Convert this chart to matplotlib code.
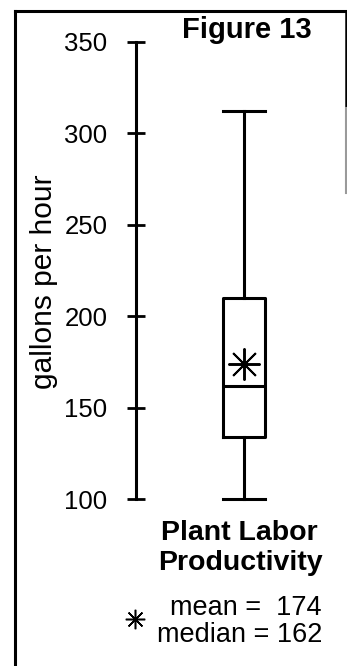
import matplotlib
matplotlib.use("Agg")
import matplotlib.pyplot as plt
from matplotlib.lines import Line2D

plt.rcParams['font.family'] = ['Liberation Sans', 'DejaVu Sans']

# ---- data ----
category = "Plant Labor\nProductivity"
q1 = 134
median = 162
q3 = 210
whisker_low = 100
whisker_high = 312
mean = 174
yticks = [100, 150, 200, 250, 300, 350]
ylabel = "gallons per hour"
title = "Figure 13"

W, H = 347, 666
fig = plt.figure(figsize=(W / 100, H / 100), dpi=100)

def fx(px):
    return px / W

def fy(py):
    return (H - py) / H

# axes: y spine at x=136px; 350 -> 41.7px, 100 -> 499.3px
ppu = (499.3 - 41.7) / 250.0
ylo, yhi = 95, 355
top_px = 41.7 - (yhi - 350) * ppu
bot_px = 499.3 + (100 - ylo) * ppu
left_px, right_px = 136, 330
ax = fig.add_axes([fx(left_px), fy(bot_px), fx(right_px) - fx(left_px), fy(top_px) - fy(bot_px)])
ax.set_xlim(0, 1)
ax.set_ylim(ylo, yhi)
ax.patch.set_alpha(0)

pos = (244 - left_px) / (right_px - left_px)
bw = 42 / (right_px - left_px)

stats = [dict(med=median, q1=q1, q3=q3, whislo=whisker_low, whishi=whisker_high,
              mean=mean, fliers=[], label="")]
lw = 2.2
ax.bxp(stats, positions=[pos], widths=bw, capwidths=bw, showmeans=True,
       showfliers=False, manage_ticks=False,
       boxprops=dict(color='black', linewidth=lw),
       medianprops=dict(color='black', linewidth=lw),
       whiskerprops=dict(color='black', linewidth=lw),
       capprops=dict(color='black', linewidth=lw),
       meanprops=dict(marker=(8, 2, 0), markersize=23, markeredgecolor='black',
                      markerfacecolor='black', markeredgewidth=1.4, linestyle='none'))

for s in ['top', 'right', 'bottom']:
    ax.spines[s].set_visible(False)
ax.spines['left'].set_bounds(yticks[0], yticks[-1])
ax.spines['left'].set_linewidth(2.2)
ax.set_xticks([])
ax.set_yticks(yticks)
ax.set_yticklabels([str(v) for v in yticks])
ax.tick_params(axis='y', direction='inout', length=13, width=2.0, pad=14,
               labelsize=18.5, colors='black')

# y label
fig.text(fx(44), fy(281.5), ylabel, rotation=90, ha='center', va='center', fontsize=21.5)

# title
fig.text(fx(247), fy(38), title, ha='center', va='baseline', fontsize=21, fontweight='bold')

# category label
cat_lines = category.split("\n")
fig.text(fx(239), fy(540), cat_lines[0], ha='center', va='baseline', fontsize=20.5, fontweight='bold')
fig.text(fx(240), fy(570), cat_lines[1], ha='center', va='baseline', fontsize=20.5, fontweight='bold')

# legend-like annotation
fig.text(fx(322), fy(615), f"mean =  {mean}", ha='right', va='baseline', fontsize=19.5)
fig.text(fx(322), fy(642), f"median = {median}", ha='right', va='baseline', fontsize=19.5)
fig.add_artist(Line2D([fx(135)], [fy(619)], marker=(8, 2, 0), markersize=14,
                      markeredgecolor='black', markeredgewidth=1.1, linestyle='none',
                      transform=fig.transFigure))

# border lines
bl = 2.2
fig.add_artist(Line2D([fx(14.5), fx(346)], [fy(10.5), fy(10.5)], color='black', lw=bl,
                      transform=fig.transFigure))
fig.add_artist(Line2D([fx(14.5), fx(14.5)], [fy(10.5), fy(666)], color='black', lw=bl,
                      transform=fig.transFigure))
fig.add_artist(Line2D([fx(346), fx(346)], [fy(10.5), fy(108)], color='black', lw=1.8,
                      transform=fig.transFigure))
fig.add_artist(Line2D([fx(346), fx(346)], [fy(108), fy(193)], color='#9a9a9a', lw=1.5,
                      transform=fig.transFigure))

fig.savefig("out.png", dpi=100)
